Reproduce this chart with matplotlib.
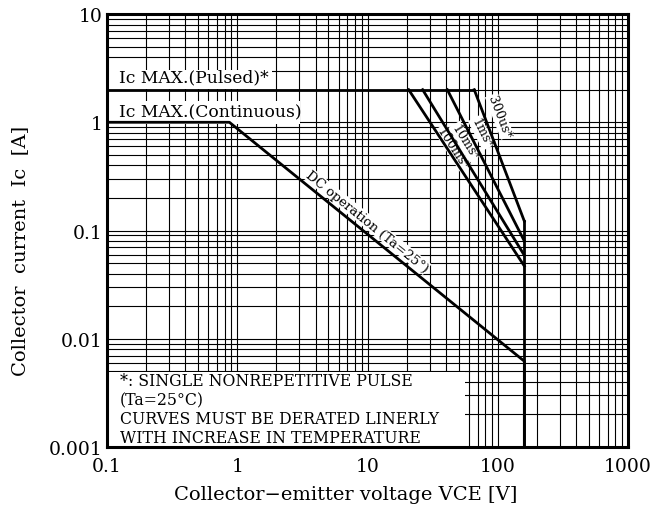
import matplotlib
matplotlib.use("Agg")
import matplotlib.pyplot as plt
from matplotlib.patches import Rectangle

plt.rcParams['font.family'] = ['DejaVu Serif']

# safe operating area (V, A)
ic_pulsed = 2.0
ic_cont = 1.0
v_max = 160

dc_v = [0.1, 0.87, 160, 160]
dc_i = [1.0, 1.0, 0.0062, 0.001]

pulse_names = ["300us*", "1ms*", "10ms*", "100ms*"]
pulse_v_start = [66, 41, 26.5, 20.7]
pulse_i_end = [0.122, 0.080, 0.059, 0.047]

# label spots (data coords) for the pulse curves
pulse_lbl_v = [103, 75, 56, 45]
pulse_lbl_i = [1.14, 0.80, 0.66, 0.58]
pulse_lbl_rot = [-69, -63, -58, -57]

fig = plt.figure(figsize=(6.63, 5.06), dpi=100)
ax = fig.add_axes([0.1614, 0.1146, 0.7858, 0.8557])
ax.set_xscale('log')
ax.set_yscale('log')
ax.set_xlim(0.1, 1000)
ax.set_ylim(0.001, 10)

ax.grid(which='both', color='black', lw=0.8, zorder=1)
ax.tick_params(which='both', length=0)
for s in ax.spines.values():
    s.set_linewidth(2.2)
    s.set_zorder(5)

# white boxes behind the labels
ax.add_patch(Rectangle((0, 0.828), 0.317, 0.043, transform=ax.transAxes,
                       facecolor='white', edgecolor='none', zorder=2))
ax.add_patch(Rectangle((0, 0.745), 0.37, 0.055, transform=ax.transAxes,
                       facecolor='white', edgecolor='none', zorder=2))
ax.add_patch(Rectangle((0, 0), 0.687, 0.173, transform=ax.transAxes,
                       facecolor='white', edgecolor='none', zorder=2))

lw = 2.0
ax.plot([0.1, pulse_v_start[0]], [ic_pulsed, ic_pulsed], color='black', lw=lw, zorder=3)
ax.plot(dc_v, dc_i, color='black', lw=lw, zorder=3)
for vs, ie in zip(pulse_v_start, pulse_i_end):
    ax.plot([vs, v_max], [ic_pulsed, ie], color='black', lw=lw, zorder=3)
ax.plot([v_max, v_max], [max(pulse_i_end), 0.001], color='black', lw=lw, zorder=3)

ax.text(0.124, 2.62, "Ic MAX.(Pulsed)*", fontsize=12.3, va='center', zorder=4)
ax.text(0.124, 1.25, "Ic MAX.(Continuous)", fontsize=12.3, va='center', zorder=4)

box = dict(facecolor='white', edgecolor='none', pad=0.3)
for name, x, y, r in zip(pulse_names, pulse_lbl_v, pulse_lbl_i, pulse_lbl_rot):
    ax.text(x, y, name, fontsize=9, rotation=r, ha='center', va='center',
            rotation_mode='anchor', zorder=2.5, bbox=box)

ax.annotate("DC operation (Ta=25°)", xy=(8.9, 0.104), xytext=(4.5, 5.5),
            textcoords='offset points', fontsize=9.5, rotation=-39,
            ha='center', va='center', rotation_mode='anchor', zorder=2.5, bbox=box)

note = ("*: SINGLE NONREPETITIVE PULSE\n(Ta=25°C)\n"
        "CURVES MUST BE DERATED LINERLY\nWITH INCREASE IN TEMPERATURE")
ax.text(0.025, 0.087, note, transform=ax.transAxes, fontsize=11.3,
        va='center', ha='left', linespacing=1.15, zorder=4)

ax.set_xticks([0.1, 1, 10, 100, 1000])
ax.set_xticklabels(["0.1", "1", "10", "100", "1000"])
ax.set_yticks([0.001, 0.01, 0.1, 1, 10])
ax.set_yticklabels(["0.001", "0.01", "0.1", "1", "10"])
ax.tick_params(labelsize=13.5)
ax.tick_params(axis='x', pad=7)
ax.tick_params(axis='y', pad=3)

ax.set_xlabel("Collector−emitter voltage VCE [V]", fontsize=14)
ax.set_ylabel("Collector  current  Ic  [A]", fontsize=14)
ax.xaxis.set_label_coords(0.459, -0.088)
ax.yaxis.set_label_coords(-0.15, 0.455)

fig.savefig("out.png", dpi=100)
